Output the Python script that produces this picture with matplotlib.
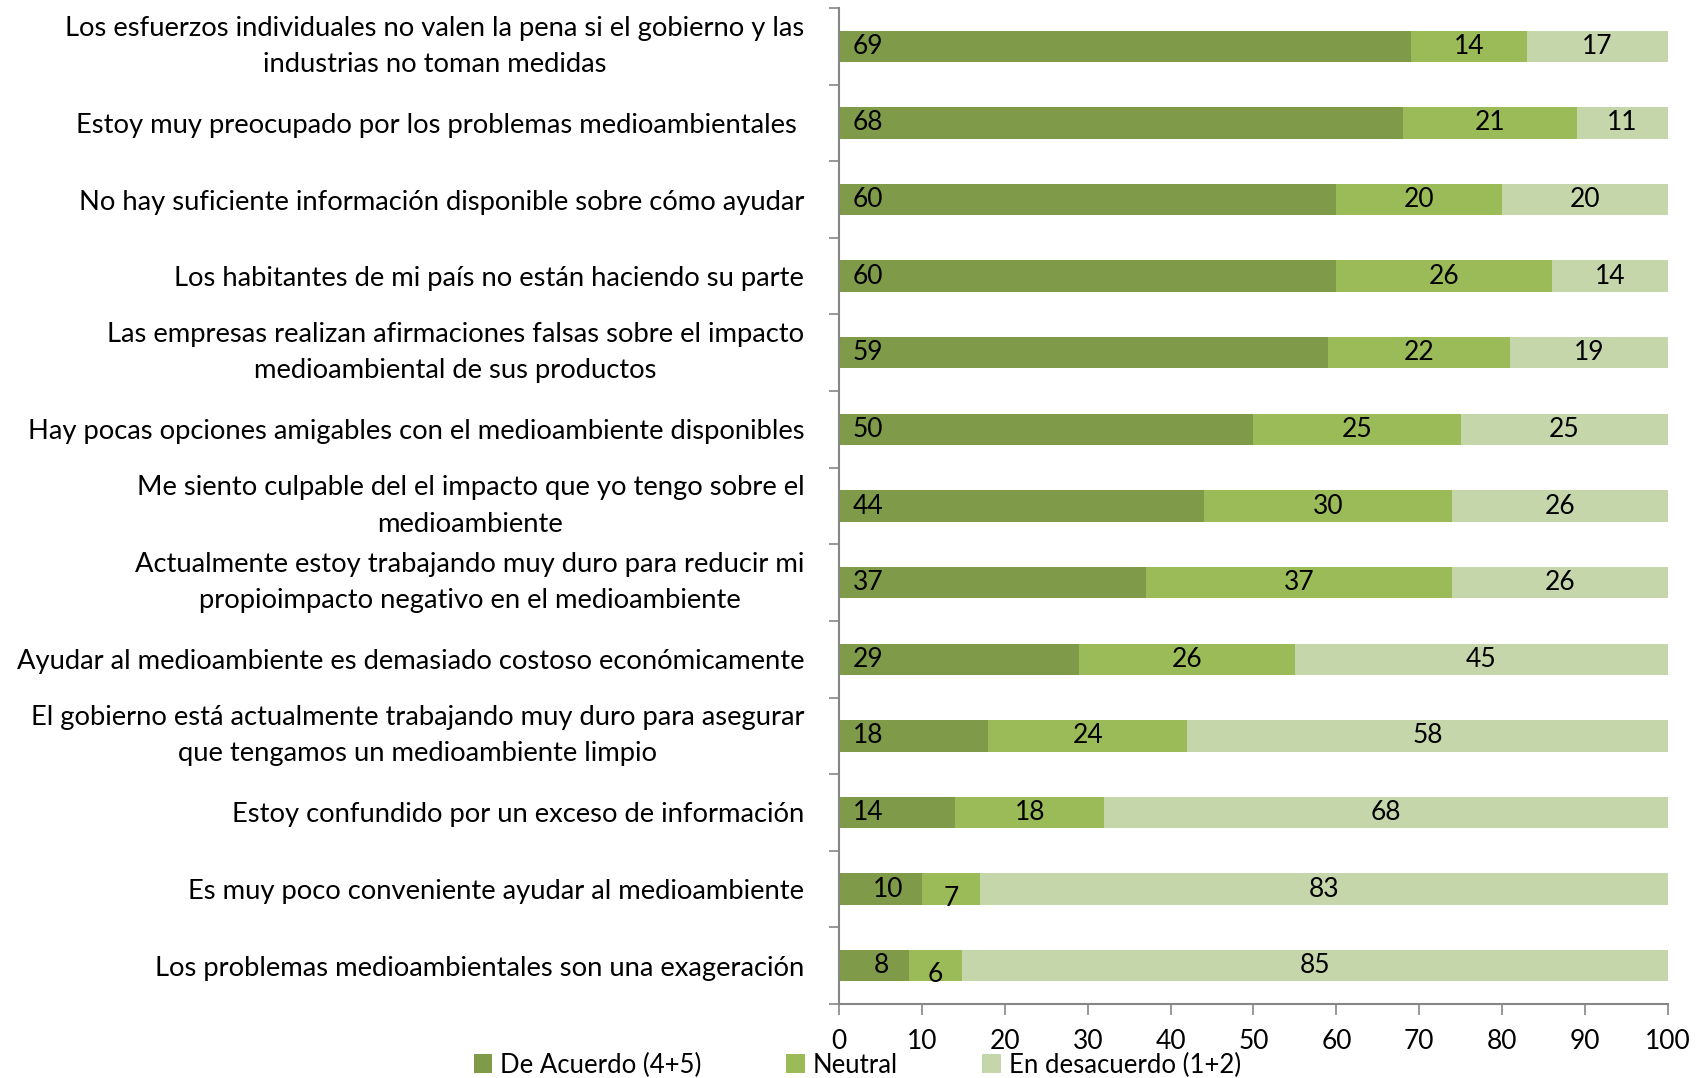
import matplotlib
matplotlib.use('Agg')
import matplotlib.pyplot as plt
from matplotlib.patches import Patch
from matplotlib.ticker import FixedLocator
import numpy as np

categories = [
    "Los esfuerzos individuales no valen la pena si el gobierno y las\nindustrias no toman medidas",
    "Estoy muy preocupado por los problemas medioambientales ",
    "No hay suficiente información disponible sobre cómo ayudar",
    "Los habitantes de mi país no están haciendo su parte",
    "Las empresas realizan afirmaciones falsas sobre el impacto\nmedioambiental de sus productos",
    "Hay pocas opciones amigables con el medioambiente disponibles",
    "Me siento culpable del el impacto que yo tengo sobre el\nmedioambiente",
    "Actualmente estoy trabajando muy duro para reducir mi\npropioimpacto negativo en el medioambiente",
    "Ayudar al medioambiente es demasiado costoso económicamente",
    "El gobierno está actualmente trabajando muy duro para asegurar\nque tengamos un medioambiente limpio",
    "Estoy confundido por un exceso de información",
    "Es muy poco conveniente ayudar al medioambiente",
    "Los problemas medioambientales son una exageración",
]
de_acuerdo = [69, 68, 60, 60, 59, 50, 44, 37, 29, 18, 14, 10, 8.4]
neutral = [14, 21, 20, 26, 22, 25, 30, 37, 26, 24, 18, 7, 6.4]
desacuerdo = [17, 11, 20, 14, 19, 25, 26, 26, 45, 58, 68, 83, 85.2]
series_names = ["De Acuerdo (4+5)", "Neutral", "En desacuerdo (1+2)"]
x_ticks = [0, 10, 20, 30, 40, 50, 60, 70, 80, 90, 100]

plt.rcParams['font.family'] = ['Lato', 'DejaVu Sans']

W, H = 1708, 1078
fig = plt.figure(figsize=(W / 100, H / 100), dpi=100)
ax = fig.add_axes([839 / W, 1 - 1004 / H, (1668 - 839) / W, (1004 - 8) / H])

colors = ['#7F9A48', '#9BBB59', '#C6D6AB']
n = len(categories)
y = np.arange(n)
left = np.zeros(n)
for idx, (vals, c, name) in enumerate(zip([de_acuerdo, neutral, desacuerdo], colors, series_names)):
    vals = np.array(vals, dtype=float)
    ax.barh(y, vals, left=left, height=0.41, color=c, label=name, zorder=2)
    for yi, l, v in zip(y, left, vals):
        txt = f"{v:.0f}"
        dy = 0
        if idx == 0:
            x = 3.5 if v >= 12 else v / 2 + 0.9
        else:
            x = l + v / 2
            if idx == 1 and v < 10:
                dy = 0.12
        ax.text(x, yi + dy, txt, ha='center', va='center', fontsize=19, color='black', zorder=3)
    left = left + vals

ax.set_xlim(0, 100)
ax.set_ylim(n - 0.5, -0.5)
ax.set_xticks(x_ticks)
ax.set_xticklabels([str(t) for t in x_ticks], fontsize=19)
ax.set_yticks(y)
ax.set_yticklabels(categories, fontsize=19.7, multialignment='center', linespacing=1.55)
for lab in ax.get_yticklabels():
    if '\n' in lab.get_text():
        lab.set_va('center')
ax.yaxis.set_minor_locator(FixedLocator(np.arange(-0.5, n, 1.0)))
ax.tick_params(axis='y', which='major', length=0, pad=25)
ax.tick_params(axis='y', which='minor', length=7, width=1.2, color='#868686', direction='out')
ax.tick_params(axis='x', which='major', length=8, width=1.2, color='#868686', direction='out', pad=10)

for s in ['top', 'right']:
    ax.spines[s].set_visible(False)
for s in ['left', 'bottom']:
    ax.spines[s].set_color('#868686')
    ax.spines[s].set_linewidth(1.5)

handles = [Patch(facecolor=c, label=nm) for c, nm in zip(colors, series_names)]
fig.legend(handles=handles, loc='center left', bbox_to_anchor=(474 / W, 1 - 1065 / H), ncol=3,
           frameon=False, fontsize=18.5, handlelength=0.72, handleheight=0.72, handletextpad=0.3,
           columnspacing=3.3, borderaxespad=0, borderpad=0)

fig.savefig('out.png', dpi=100)
